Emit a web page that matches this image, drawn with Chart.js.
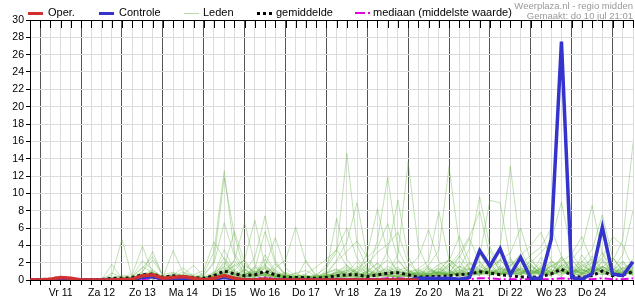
<!DOCTYPE html>
<html>
<head>
<meta charset="utf-8">
<script src="https://cdn.jsdelivr.net/npm/chart.js"></script>
<style>
  body { margin: 0; background: #fff; font-family: "Liberation Sans", Arial, sans-serif; }
  #wrap { position: relative; width: 635px; height: 300px; }
  canvas { position: absolute; left: 0; top: 0; }
  .lg { position: absolute; top: 6px; font-size: 11px; color: #000; line-height: 13px; white-space: nowrap; }
  .sw { position: absolute; top: 12px; height: 0; width: 15px; }
  .credit { position: absolute; right: 2px; font-size: 9.5px; color: #999; white-space: nowrap; }
</style>
</head>
<body>
<div id="wrap">
  <canvas id="chart" width="635" height="300"></canvas>
  <div class="sw" style="left:28px;border-top:3px solid #d03030"></div><div class="lg" style="left:48px">Oper.</div>
  <div class="sw" style="left:99px;border-top:3px solid #3434cc"></div><div class="lg" style="left:119px">Controle</div>
  <div class="sw" style="left:184px;top:13px;border-top:1px solid #b5d9a8"></div><div class="lg" style="left:203px">Leden</div>
  <div class="sw" style="left:257px;border-top:3px dotted #000"></div><div class="lg" style="left:276px">gemiddelde</div>
  <div class="sw" style="left:355px;width:10px;border-top:2px solid #e000e0"></div><div class="sw" style="left:368px;width:2px;border-top:2px solid #e000e0"></div><div class="lg" style="left:373px">mediaan (middelste waarde)</div>
  <div class="credit" style="top:0px">Weerplaza.nl - regio midden</div>
  <div class="credit" style="top:10px">Gemaakt: do 10 jul 21:01</div>
</div>
<script>
// 6-uurs tijdstappen: do 10 jul 18:00 t/m vr 25 jul 12:00 (60 punten)
const dayLabels = ['Vr 11', 'Za 12', 'Zo 13', 'Ma 14', 'Di 15', 'Wo 16', 'Do 17',
  'Vr 18', 'Za 19', 'Zo 20', 'Ma 21', 'Di 22', 'Wo 23', 'Do 24'];
const steps = 60;
const yTicks = [0, 30, 2];

const oper = [0,0,0.1,0.3,0.2,0,0,0,0,0.05, 0.1,0.5,0.6,0.2,0.3,0.4,0.2,0,0.2,0.5,
  0.2,0,0,0.1,0,0,0,0,0,0, 0,0,0,0,0,0,0,0,0];
const controle = [0,0,0,0.1,0,0,0,0,0,0, 0,0.3,0.4,0.1,0.2,0.2,0.1,0,0.1,0.3,
  0.1,0,0,0.1,0,0,0,0,0,0, 0,0,0,0,0,0,0,0,0.2,0.2,
  0.2,0.2,0.1,0.3,3.4,1.6,3.6,0.6,2.6,0.2, 0.2,4.7,27.5,0.3,0.1,0.7,6.1,0.7,0.5,2.1];
const gemiddelde = [0.05,0.05,0.1,0.3,0.1,0.05,0.05,0.05,0.2,0.2, 0.3,0.6,0.7,0.3,0.5,0.4,0.3,0.2,0.5,1.05,
  0.7,0.5,0.6,1.0,0.6,0.3,0.3,0.3,0.2,0.3, 0.5,0.6,0.6,0.4,0.6,0.8,0.85,0.6,0.3,0.4,
  0.4,0.5,0.6,0.7,0.95,0.8,0.6,0.5,0.35,0.3, 0.4,0.7,1.25,0.5,0.3,0.5,1.05,0.5,0.6,0.95];
const mediaan = [0,0,0,0.1,0,0,0,0,0,0, 0,0.1,0.2,0,0.1,0.1,0,0,0.1,0.3,
  0.1,0.1,0.1,0.3,0.1,0,0,0,0,0, 0.1,0.1,0.1,0.1,0.1,0.2,0.2,0.1,0,0.1,
  0.1,0.1,0.1,0.1,0.2,0.2,0.1,0.1,0.1,0.1, 0.1,0.1,0.2,0.1,0.1,0.1,0.2,0.1,0.1,0.2];

const lid01 = [0,0,0,0.3,0.1,0,0,0,1.8,0.2, 0,0.8,0.6,0,0.3,0.2,0,0,0.4,1.2, 0.5,0.2,0.8,1.5,0.6,0.2,0.1,2.3,0.3,0, 0.6,1.1,0.4,0.2,0.9,0.5,0.3,1.2,0.4,0.2, 0.8,1.9,0.7,0.5,3.0,1.2,0.6,2.1,0.9,0.4, 1.0,2.2,1.5,0.8,1.6,2.4,1.1,0.6,1.3,2.0];
const lid02 = [0,0,0,0.2,0,0,0,0,0.8,0.3, 0,0.4,0.9,0.2,0.5,0.3,0.1,0,0.2,0.6, 1.8,0.7,0.3,0.9,0.4,0.1,0.3,0.5,0.2,1.1, 7.1,2.4,0.8,0.3,1.5,0.6,2.2,0.9,0.3,0.5, 1.4,0.6,2.8,1.2,0.5,1.8,0.7,1.1,0.4,2.5, 0.9,0.6,1.7,0.5,2.9,1.3,0.8,0.4,1.9,0.7];
const lid03 = [0,0,0,0.4,0.1,0,0,0.2,0.5,4.7, 0.3,0.2,0.5,0.1,0.2,0.4,0.1,0,0.3,0.8, 0.4,1.3,0.5,0.2,0.7,0.3,0.1,0.2,0.6,1.4, 3.2,14.6,4.1,1.2,0.6,0.9,0.4,0.8,0.3,1.6, 0.5,1.2,0.4,0.8,2.2,0.6,1.4,0.9,2.7,0.5, 1.1,0.4,2.0,0.8,0.5,1.7,0.9,1.3,0.6,0.9];
const lid04 = [0,0,0,0.2,0,0,0,0,0.2,0.5, 0.6,3.9,0.8,0.2,0.5,0.2,0.1,0.3,0.5,2.1, 0.9,0.4,1.6,0.5,0.3,0.8,0.2,0.4,0.1,0.6, 2.3,4.4,8.9,2.6,1.1,0.4,1.3,0.5,0.8,0.3, 1.7,0.6,0.9,2.0,1.1,3.4,0.8,0.5,1.2,0.7, 2.6,1.0,0.4,1.5,0.8,0.6,2.3,0.9,0.5,1.4];
const lid05 = [0,0,0,0.3,0.1,0,0,0,0,0.2, 0.4,2.2,1.2,0.3,0.6,0.4,0.2,0.1,0.7,3.5, 1.1,0.6,0.3,2.4,0.8,0.4,0.2,0.1,0.3,0.5, 0.8,1.6,0.7,3.1,8.2,2.9,0.8,0.4,1.1,0.6, 0.9,2.4,1.3,0.6,0.8,1.5,0.6,2.2,0.7,1.8, 0.5,1.3,2.6,0.9,0.4,1.1,3.2,1.4,0.8,0.6];
const lid06 = [0,0,0,0.1,0,0,0,0.1,0.3,0.2, 0.3,1.5,0.9,0.2,0.8,0.5,0.2,0,0.6,1.4, 0.7,0.3,1.1,0.5,1.9,0.6,0.2,0.5,0.2,0.4, 0.6,0.9,2.1,0.7,4.6,11.9,3.6,1.1,0.5,0.8, 1.3,0.5,1.6,0.8,1.2,0.6,2.3,1.0,0.6,1.5, 0.8,2.1,0.9,1.7,0.6,0.9,1.4,2.6,1.0,0.7];
const lid07 = [0,0,0,0.2,0,0,0,0,0.1,0.3, 0.2,0.9,3.3,0.4,0.3,0.6,0.3,0.1,0.2,0.9, 1.6,2.3,0.6,0.9,0.4,0.2,0.5,0.3,0.1,0.8, 1.2,0.5,1.3,2.2,1.0,3.4,9.2,2.7,0.6,0.4, 0.7,1.8,0.6,1.3,0.9,2.0,0.5,1.6,3.0,0.8, 1.2,0.6,1.8,1.1,0.7,2.8,1.2,0.5,0.9,1.6];
const lid08 = [0,0,0,0.3,0.1,0,0,0,0.2,0.1, 0.4,1.4,2.7,0.6,0.9,0.3,0.4,0.2,0.8,2.6, 1.0,0.4,0.7,1.3,0.5,0.3,0.2,0.4,0.6,0.3, 0.9,1.8,0.6,1.0,2.0,0.8,2.9,13.6,3.8,1.2, 0.6,0.9,2.2,0.7,1.6,0.8,1.2,0.6,1.4,0.9, 2.0,0.7,1.3,0.6,1.9,0.8,1.5,0.9,0.4,1.2];
const lid09 = [0,0,0,0.2,0,0,0,0,0.3,0.4, 0.2,1.0,2.3,0.5,0.4,0.9,0.5,0.2,0.4,1.6, 0.6,1.2,0.4,2.9,1.0,0.4,0.8,0.2,0.3,0.6, 0.4,1.2,0.9,0.5,1.4,2.3,1.1,1.5,2.6,5.8, 2.1,1.1,0.6,1.9,0.8,1.3,2.4,0.9,0.7,1.9, 0.6,1.6,0.9,2.3,1.0,1.9,0.7,1.1,2.2,0.8];
const lid10 = [0,0,0,0.1,0,0,0,0,0,0.2, 0.1,0.6,0.9,0.3,3.4,0.8,0.3,0.1,0.5,0.7, 2.2,0.8,0.5,0.6,1.2,0.4,0.3,0.1,0.2,0.4, 0.7,0.4,1.6,0.8,0.5,1.2,0.6,0.9,1.3,2.2, 7.9,2.3,0.9,0.6,1.8,0.7,1.1,2.5,1.0,0.6, 1.4,0.8,2.4,0.9,1.2,0.6,2.1,0.8,1.5,0.9];
const lid11 = [0,0,0,0.2,0,0,0,0,0.1,0.1, 0.2,0.7,1.1,0.4,0.6,1.4,0.4,0.2,0.7,1.9, 0.8,0.5,1.4,0.7,0.3,0.6,0.2,0.3,0.5,0.2, 1.1,0.6,0.8,1.4,0.7,0.9,1.5,0.6,1.0,1.7, 3.4,13.1,4.2,1.3,0.7,1.0,0.6,1.8,0.8,1.2, 0.5,1.9,0.7,1.3,2.2,0.9,1.6,0.7,1.0,2.4];
const lid12 = [0,0,0,0.1,0,0,0,0,0,0.1, 0.3,0.5,0.8,0.2,0.4,0.6,1.7,0.4,0.3,1.1, 0.6,1.7,0.9,0.4,0.8,0.2,0.6,0.4,0.2,0.7, 0.5,0.9,0.4,1.1,0.6,1.6,0.8,1.2,0.5,0.9, 1.8,2.2,5.0,2.1,1.2,0.6,1.6,0.9,1.3,0.6, 1.7,0.9,1.1,0.5,1.4,2.0,0.8,1.3,0.6,1.1];
const lid13 = [0,0,0,0.2,0,0,0,0,0,0.1, 0.2,0.4,0.6,0.2,0.3,0.5,0.6,1.1,4.4,2.4, 0.7,0.3,0.8,1.8,0.5,0.9,0.3,0.2,0.4,0.8, 1.3,0.7,0.5,0.9,1.9,0.6,1.0,0.5,0.8,1.4, 0.6,1.5,2.6,4.8,2.0,0.9,0.6,1.3,0.7,1.6, 0.9,0.5,1.6,0.7,1.0,1.3,2.5,0.9,1.2,0.5];
const lid14 = [0,0,0,0.3,0.1,0,0,0,0,0, 0.1,0.5,0.7,0.3,0.5,0.4,0.2,0.8,3.2,12.6, 3.1,1.2,0.4,0.9,0.5,0.2,0.4,0.6,0.2,0.5, 0.8,1.1,0.6,0.4,0.9,1.3,0.5,0.8,1.2,0.7, 1.1,2.4,1.3,3.6,9.6,3.8,1.4,0.8,1.1,0.6, 1.5,0.8,2.7,1.0,0.6,1.4,0.9,1.7,0.8,1.3];
const lid15 = [0,0,0,0.1,0,0,0,0,0,0.1, 0.2,0.3,0.5,0.2,0.4,0.3,0.2,0.5,2.1,11.8, 5.2,0.9,0.6,1.4,0.4,0.3,0.2,0.3,0.1,0.6, 0.9,0.5,1.3,0.6,0.4,0.8,1.1,0.5,0.7,1.0, 0.8,1.6,3.1,5.0,7.9,2.7,1.2,0.6,1.4,0.9, 0.7,1.7,1.0,2.4,0.8,1.2,0.6,1.0,2.1,0.8];
const lid16 = [0,0,0,0.2,0,0,0,0,0,0.2, 0.1,0.4,0.6,0.1,0.3,0.2,0.4,0.6,1.9,6.6, 2.8,0.7,1.0,0.6,0.3,0.5,0.1,0.2,0.3,0.4, 0.6,1.4,0.7,0.5,1.1,0.7,0.4,0.9,0.6,1.2, 0.9,0.7,1.6,1.1,2.8,9.2,8.9,2.4,1.0,0.7, 1.3,0.6,1.1,0.8,1.7,0.9,1.4,0.6,0.9,1.5];
const lid17 = [0,0,0,0.1,0,0,0,0,0,0, 0.2,0.4,0.5,0.2,0.2,0.3,0.1,0.4,0.9,1.5, 5.6,2.0,0.6,0.4,0.7,0.3,0.2,0.1,0.4,0.3, 0.5,0.8,0.4,0.7,0.6,0.9,0.7,0.4,0.9,0.5, 1.0,0.6,0.9,1.4,0.7,1.2,3.9,13.1,3.5,1.1, 0.6,1.2,0.8,1.3,0.7,1.6,0.9,1.2,0.7,0.9];
const lid18 = [0,0,0,0.2,0,0,0,0,0,0, 0.1,0.3,0.4,0.1,0.3,0.2,0.3,0.3,0.6,1.0, 2.3,6.6,1.8,0.7,0.4,0.6,0.2,0.3,0.2,0.5, 0.3,0.6,0.9,0.5,0.8,0.6,0.9,0.7,0.4,0.8, 0.7,1.0,0.6,0.9,1.3,0.6,1.0,0.7,1.5,2.0, 3.2,4.5,9.0,3.1,1.2,0.7,1.1,0.6,1.4,0.8];
const lid19 = [0,0,0,0.1,0,0,0,0,0,0, 0.1,0.2,0.3,0.2,0.2,0.2,0.2,0.2,0.4,0.8, 1.1,2.4,6.9,1.6,0.8,0.3,0.4,0.2,0.1,0.3, 0.4,0.3,0.6,0.8,0.5,0.7,0.4,0.6,0.9,0.6, 0.5,0.8,1.1,0.7,1.0,0.8,0.6,1.1,0.8,0.6, 1.3,0.9,1.6,2.4,3.8,8.6,3.0,1.0,0.7,1.2];
const lid20 = [0,0,0,0.2,0,0,0,0,0,0, 0.1,0.3,0.4,0.2,0.2,0.3,0.2,0.1,0.5,0.7, 0.6,1.0,2.6,7.4,2.2,0.6,0.3,0.2,0.3,0.2, 0.6,0.4,0.3,0.6,0.7,0.5,0.8,0.3,0.6,0.7, 0.9,0.5,0.8,0.6,0.9,1.1,0.7,0.9,1.2,0.8, 0.6,1.0,1.4,0.8,2.1,3.5,7.5,2.6,1.1,0.8];
const lid21 = [0,0,0,0.1,0,0,0,0,0,0, 0.1,0.2,0.3,0.1,0.2,0.2,0.1,0.2,0.3,0.9, 0.7,0.5,1.3,5.6,1.9,0.5,0.2,0.3,0.1,0.2, 0.3,0.5,0.4,0.3,0.6,0.4,0.5,0.7,0.3,0.5, 0.6,0.8,0.5,0.7,0.6,0.9,0.8,0.6,0.9,1.1, 0.7,0.9,0.6,1.2,0.8,1.3,1.0,2.2,4.6,15.8];
const lid22 = [0,0,0,0.1,0,0,0,0,0,0, 0,0.2,0.2,0.1,0.1,0.2,0.1,0.1,0.2,0.5, 0.4,0.7,0.9,1.6,4.9,1.4,0.4,0.2,0.2,0.1, 0.2,0.4,0.3,0.5,0.4,0.6,0.3,0.5,0.4,0.6, 0.5,0.7,0.4,0.6,0.8,0.5,0.9,0.7,0.6,1.0, 0.8,0.6,1.1,0.9,1.3,0.8,1.5,1.2,2.9,8.0];
const lid23 = [0,0,0,0.1,0,0,0,0,0,0, 0,0.1,0.2,0.1,0.1,0.1,0.1,0.1,0.2,0.4, 0.3,0.5,0.6,0.9,1.4,2.3,6.1,2.0,0.6,0.3, 0.2,0.4,0.3,0.4,0.3,0.5,0.3,0.4,0.6,0.4, 0.6,0.5,0.7,0.5,0.6,0.9,0.6,0.8,0.7,1.2, 0.9,1.6,2.2,3.0,5.0,2.1,0.9,0.7,1.0,0.6];
const lid24 = [0,0,0,0.1,0,0,0,0,0,0, 0,0.1,0.1,0.1,0.1,0.1,0.1,0,0.2,0.3, 0.2,0.4,0.3,0.6,0.5,0.4,0.8,1.1,0.4,1.8, 3.5,6.0,2.5,1.0,0.6,0.4,0.3,0.5,0.4,0.3, 0.7,0.5,0.8,0.6,1.0,1.4,2.3,3.1,6.0,2.2, 1.1,0.6,0.9,0.5,0.7,1.0,0.6,0.8,0.7,0.9];
const lid25 = [0,0,0,0.1,0,0,0,0,0,0, 0,0.2,0.3,0.1,0.2,0.1,0.1,0.1,0.3,0.6, 0.4,0.3,0.6,0.8,0.4,0.3,0.2,0.1,0.3,0.9, 2.1,3.3,4.5,2.6,3.8,6.5,2.4,0.9,0.5,0.7, 0.9,0.6,1.2,0.8,0.7,1.1,0.9,1.6,2.8,4.0, 5.5,2.3,1.0,0.7,1.2,0.8,1.6,0.9,0.6,1.0];
const lid26 = [0,0,0,0.1,0,0,0,0,0,0, 0,0.1,0.2,0.1,0.1,0.1,0.1,0,0.2,0.4, 0.3,0.2,0.4,0.6,0.3,0.2,0.4,0.7,1.5,2.4, 3.5,1.6,0.9,1.8,3.2,4.1,5.5,2.0,0.7,0.5, 0.8,0.6,0.9,0.7,1.1,0.8,1.3,1.0,1.7,2.9, 3.8,6.0,2.7,1.2,0.8,1.5,2.6,5.0,4.0,1.3];

const leden = [lid01, lid02, lid03, lid04, lid05, lid06, lid07, lid08, lid09, lid10, lid11, lid12, lid13,
  lid14, lid15, lid16, lid17, lid18, lid19, lid20, lid21, lid22, lid23, lid24, lid25, lid26];

// x-labels: één per tijdstap, dagnaam op 12:00 (index 3, 7, 11, ...)
const labels = [];
for (let i = 0; i < steps; i++) {
  const d = (i - 3) / 4;
  labels.push(i % 4 === 3 && d < dayLabels.length ? dayLabels[d] : '');
}

const datasets = [
  { label: 'Oper.', data: oper, borderColor: '#d03030', borderWidth: 3.5, order: 0 },
  { label: 'Controle', data: controle, borderColor: '#3434cc', borderWidth: 3.5, order: 1 },
  { label: 'mediaan', data: mediaan, borderColor: '#e000e0', borderWidth: 2, borderDash: [8, 3, 2, 3], order: 2 },
  { label: 'gemiddelde', data: gemiddelde, borderColor: '#111', borderWidth: 3, borderDash: [3, 3], order: 3 }
];
leden.forEach((lid, i) => {
  datasets.push({ label: 'lid ' + (i + 1), data: lid, borderColor: 'rgba(95,175,60,0.38)', borderWidth: 1, order: 4 });
});

// kleine streepjes aan de bovenrand
const topTicks = {
  id: 'topTicks',
  afterDraw(chart) {
    const { ctx, chartArea } = chart;
    const x = chart.scales.x;
    ctx.save();
    ctx.strokeStyle = '#000';
    ctx.lineWidth = 1;
    ctx.beginPath();
    ctx.moveTo(chartArea.left, chartArea.top + 0.5);
    ctx.lineTo(chartArea.right, chartArea.top + 0.5);
    for (let i = 0; i < x.ticks.length; i++) {
      const px = Math.round(x.getPixelForTick(i)) + 0.5;
      ctx.moveTo(px, chartArea.top);
      ctx.lineTo(px, chartArea.top + 8);
    }
    ctx.stroke();
    ctx.restore();
  }
};

new Chart(document.getElementById('chart'), {
  type: 'line',
  data: { labels: labels, datasets: datasets },
  options: {
    responsive: false,
    animation: false,
    layout: { padding: { top: 20, right: 0, left: 0, bottom: 0 } },
    elements: { point: { radius: 0 }, line: { tension: 0, borderCapStyle: 'butt', borderJoinStyle: 'miter' } },
    plugins: { legend: { display: false }, tooltip: { enabled: false } },
    scales: {
      x: {
        afterFit: s => { s.height = 20; },
        ticks: { autoSkip: false, maxRotation: 0, minRotation: 0, color: '#000', padding: 2,
          font: { family: '"Liberation Sans", Arial, sans-serif', size: 10.5 } },
        grid: {
          color: c => (c.index % 4 === 1 ? '#555' : '#dcdcdc'),
          tickColor: '#000', tickLength: 5, lineWidth: 1
        },
        border: { color: '#000', width: 1 }
      },
      y: {
        min: yTicks[0], max: yTicks[1],
        afterFit: s => { s.width = 30; },
        ticks: { stepSize: yTicks[2], color: '#000', padding: 2,
          font: { family: '"Liberation Sans", Arial, sans-serif', size: 10.5 } },
        grid: { color: '#dcdcdc', tickColor: '#000', tickLength: 4 },
        border: { color: '#000', width: 1 }
      }
    }
  },
  plugins: [topTicks]
});
</script>
</body>
</html>
